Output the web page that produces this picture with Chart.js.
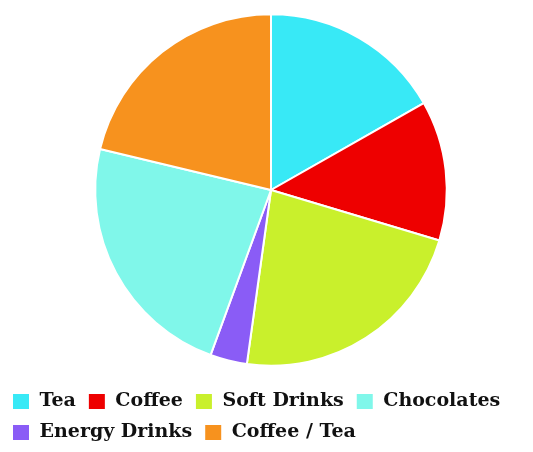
<!DOCTYPE html>
<html>
<head>
<meta charset="utf-8">
<script src="https://cdn.jsdelivr.net/npm/chart.js@4/dist/chart.umd.min.js"></script>
<style>
  html, body { margin: 0; padding: 0; background: #fff; overflow: hidden; }
  /* a bit wider than the window so the pie centre lands at x=271 */
  #wrap { width: 542px; height: 452px; }
</style>
</head>
<body>
<div id="wrap"><canvas id="drinksChart"></canvas></div>
<script>
// slice order, clockwise from 12 o'clock
const categories = ['Tea', 'Coffee', 'Soft Drinks', 'Energy Drinks', 'Chocolates', 'Coffee / Tea'];
const shares = [16.8, 12.9, 22.6, 3.4, 23.2, 21.3];
const sliceColors = ['#38e9f6', '#ee0000', '#c9f02c', '#8a5cf6', '#80f7ea', '#f7921e'];
// legend lists the items in a different order than the slices
const legendOrder = ['Tea', 'Coffee', 'Soft Drinks', 'Chocolates', 'Energy Drinks', 'Coffee / Tea'];

new Chart(document.getElementById('drinksChart'), {
  type: 'pie',
  data: {
    labels: categories,
    datasets: [{
      data: shares,
      backgroundColor: sliceColors,
      borderColor: '#ffffff',
      borderWidth: 2
    }]
  },
  options: {
    responsive: true,
    maintainAspectRatio: false,
    animation: false,
    radius: '93%',
    layout: { padding: 0 },
    plugins: {
      tooltip: { enabled: false },
      legend: {
        position: 'bottom',
        align: 'start',
        labels: {
          color: '#111111',
          font: { family: 'DejaVu Serif', size: 19, weight: 'bold' },
          boxWidth: 18,
          boxHeight: 17,
          padding: 12,
          sort: (a, b) => legendOrder.indexOf(a.text) - legendOrder.indexOf(b.text)
        }
      }
    }
  }
});
</script>
</body>
</html>
